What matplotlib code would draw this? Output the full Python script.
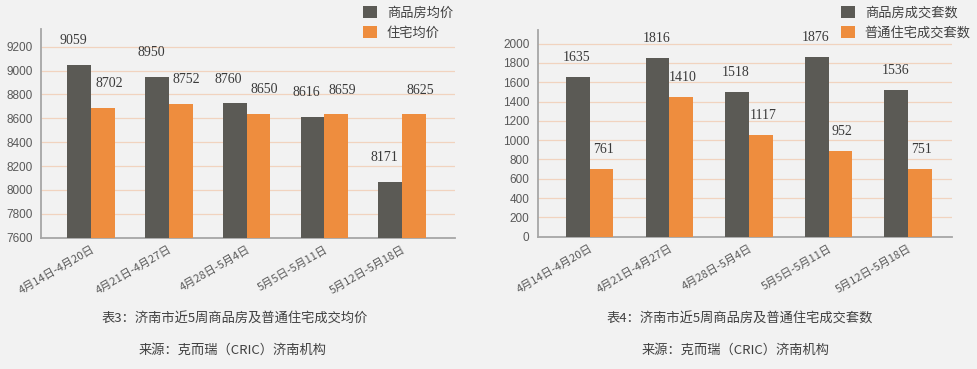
import matplotlib
matplotlib.use("Agg")
import matplotlib.pyplot as plt
import numpy as np

plt.rcParams['font.family'] = ['Noto Sans CJK SC', 'DejaVu Sans']

# ---- data ----
weeks = ["4月14日-4月20日", "4月21日-4月27日", "4月28日-5月4日", "5月5日-5月11日", "5月12日-5月18日"]

price_comm = [9050, 8950, 8725, 8615, 8070]          # 商品房均价 (bar heights)
price_res = [8690, 8720, 8640, 8635, 8635]           # 住宅均价 (bar heights)
price_comm_labels = ["9059", "8950", "8760", "8616", "8171"]
price_res_labels = ["8702", "8752", "8650", "8659", "8625"]

vol_comm = [1655, 1848, 1499, 1862, 1520]            # 商品房成交套数
vol_res = [701, 1447, 1050, 888, 701]                # 普通住宅成交套数
vol_comm_labels = ["1635", "1816", "1518", "1876", "1536"]
vol_res_labels = ["761", "1410", "1117", "952", "751"]

price_ticks = [7600, 7800, 8000, 8200, 8400, 8600, 8800, 9000, 9200]
vol_ticks = [0, 200, 400, 600, 800, 1000, 1200, 1400, 1600, 1800, 2000]

legend_price = ["商品房均价", "住宅均价"]
legend_vol = ["商品房成交套数", "普通住宅成交套数"]
caption_price = "表3：济南市近5周商品房及普通住宅成交均价"
caption_vol = "表4：济南市近5周商品房及普通住宅成交套数"
source = "来源：克而瑞（CRIC）济南机构"

# ---- style ----
BG = "#f2f2f2"
DARK = "#5b5a55"
ORANGE = "#ee8d3e"
GRID = "#f1d3bf"
SPINE = "#a6a6a6"
TICKC = "#595959"
W, H = 978, 369

fig = plt.figure(figsize=(W / 100, H / 100), dpi=100, facecolor=BG)


def px_axes(l, r, top, bottom):
    return fig.add_axes([l / W, 1 - bottom / H, (r - l) / W, (bottom - top) / H])


def draw(ax, a, b, la, lb, ticks, ylim, xlim, bw, leg, leg_xy, offs):
    ax.set_facecolor(BG)
    x = np.arange(len(weeks))
    b1 = ax.bar(x - bw / 2, a, bw, color=DARK, label=leg[0], zorder=3)
    b2 = ax.bar(x + bw / 2, b, bw, color=ORANGE, label=leg[1], zorder=3)
    ax.set_ylim(*ylim)
    ax.set_xlim(*xlim)
    ax.set_yticks(ticks)
    ax.set_yticklabels([str(t) for t in ticks], family='Liberation Sans', fontsize=8.5, color=TICKC)
    ax.tick_params(axis='y', length=0, pad=6)
    ax.tick_params(axis='x', length=0, pad=5)
    ax.set_xticks(x)
    ax.set_xticklabels(weeks, rotation=30, ha='right', va='top', rotation_mode='anchor',
                       fontsize=8, color=TICKC)
    for t in ticks:
        if t != ticks[0]:
            ax.axhline(t, color=GRID, lw=0.9, zorder=1)
    for s in ['top', 'right']:
        ax.spines[s].set_visible(False)
    for s in ['left', 'bottom']:
        ax.spines[s].set_color(SPINE)
        ax.spines[s].set_linewidth(1.3)
    for bars, labs, off in ((b1, la, offs[0]), (b2, lb, offs[1])):
        for rect, lab in zip(bars, labs):
            ax.annotate(lab, (rect.get_x() + rect.get_width() / 2, rect.get_height()),
                        xytext=off, textcoords='offset pixels', ha='center', va='center',
                        family='Liberation Serif', fontsize=10, color="#3a3a3a", zorder=4)
    ax.legend(loc='upper left', bbox_to_anchor=(leg_xy[0] / W, 1 - leg_xy[1] / H),
              bbox_transform=fig.transFigure, frameon=False, borderpad=0, borderaxespad=0,
              handlelength=1.05, handleheight=1.05, handletextpad=0.75, labelspacing=0.5,
              prop={'family': ['Noto Sans CJK SC'], 'size': 9.5}, labelcolor="#404040")


ax1 = px_axes(41, 455, 29, 237.7)
draw(ax1, price_comm, price_res, price_comm_labels, price_res_labels, price_ticks,
     (7600, 9348), (-0.643, 4.68), 0.305, legend_price, (363, 6),
     ((-6, 24), (6, 24)))

ax2 = px_axes(537.7, 952.3, 30, 236.7)
draw(ax2, vol_comm, vol_res, vol_comm_labels, vol_res_labels, vol_ticks,
     (0, 2141), (-0.653, 4.555), 0.298, legend_vol, (841, 6),
     ((-1, 19.5), (2, 19.5)))

fig.text(235 / W, 1 - 319 / H, caption_price, ha='center', va='center', fontsize=9.5, color="#404040")
fig.text(233 / W, 1 - 350 / H, source, ha='center', va='center', fontsize=9.5, color="#404040")
fig.text(740 / W, 1 - 319 / H, caption_vol, ha='center', va='center', fontsize=9.5, color="#404040")
fig.text(736 / W, 1 - 350 / H, source, ha='center', va='center', fontsize=9.5, color="#404040")

fig.savefig("out.png", dpi=100, facecolor=BG)
